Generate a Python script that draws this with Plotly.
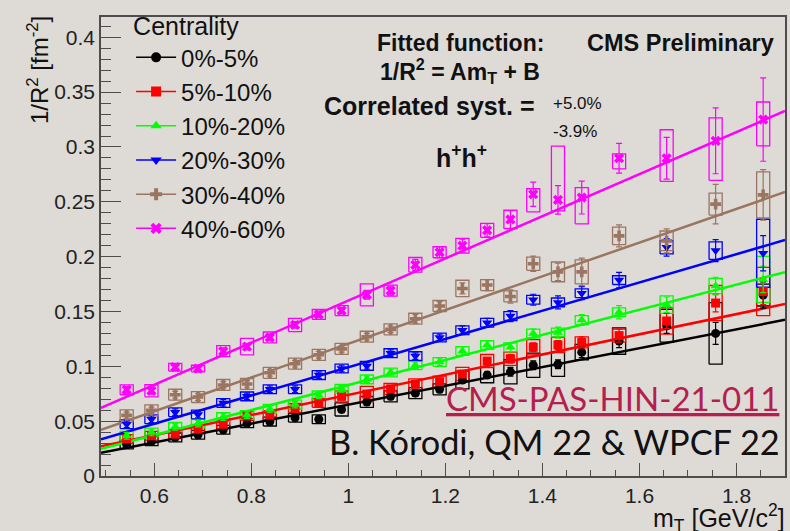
import plotly.graph_objects as go

# ---------------- data ----------------
mT = [0.543, 0.594, 0.643, 0.690, 0.742, 0.791, 0.838, 0.890, 0.939, 0.986, 1.038, 1.087,
      1.138, 1.188, 1.235, 1.286, 1.334, 1.381, 1.432, 1.481, 1.558, 1.656, 1.757, 1.855]

labels = ["0%-5%", "5%-10%", "10%-20%", "20%-30%", "30%-40%", "40%-60%"]
colors = ["#000000", "#ff0000", "#00ff00", "#0000ff", "#9a7562", "#ff00ff"]
symbols = ["circle", "square", "triangle-up", "triangle-down", "cross", "x"]

invR2_0_5 = [0.0287, 0.0317, 0.0352, 0.0376, 0.0421, 0.0481, 0.0496, 0.0532, 0.0517, 0.0607, 0.0675, 0.0726,
             0.0755, 0.0790, 0.0875, 0.0920, 0.0950, 0.1010, 0.1019, 0.1129, 0.1230, 0.1370, 0.1300, 0.1650]
invR2_5_10 = [0.0338, 0.0367, 0.0382, 0.0427, 0.0472, 0.0547, 0.0556, 0.0621, 0.0666, 0.0726, 0.0747, 0.0795,
              0.0836, 0.0860, 0.0930, 0.1048, 0.1069, 0.1174, 0.1195, 0.1219, 0.1280, 0.1413, 0.1577, 0.1682]
invR2_10_20 = [0.0367, 0.0397, 0.0448, 0.0478, 0.0538, 0.0556, 0.0612, 0.0651, 0.0735, 0.0795, 0.0881, 0.0944,
               0.1010, 0.1039, 0.1140, 0.1195, 0.1174, 0.1299, 0.1308, 0.1422, 0.1493, 0.1562, 0.1732, 0.1792]
invR2_20_30 = [0.0472, 0.0517, 0.0582, 0.0561, 0.0666, 0.0726, 0.0791, 0.0791, 0.0920, 0.0980, 0.1004, 0.1120,
               0.1093, 0.1263, 0.1329, 0.1398, 0.1458, 0.1607, 0.1583, 0.1667, 0.1786, 0.2085, 0.2055, 0.2031]
invR2_30_40 = [0.0553, 0.0598, 0.0741, 0.0720, 0.0830, 0.0839, 0.0941, 0.1024, 0.1105, 0.1159, 0.1270, 0.1337,
               0.1434, 0.1550, 0.1710, 0.1741, 0.1637, 0.1935, 0.1861, 0.1861, 0.2189, 0.2144, 0.2479, 0.2563]
invR2_40_60 = [0.0786, 0.0777, 0.0992, 0.0980, 0.1138, 0.1180, 0.1263, 0.1377, 0.1473, 0.1508, 0.1652, 0.1690,
               0.1925, 0.2040, 0.2100, 0.2240, 0.2339, 0.2569, 0.2518, 0.2539, 0.2897, 0.2897, 0.3056, 0.3250]

stat_0_5 = [0.003] * 14 + [0.003, 0.003, 0.004, 0.004, 0.004, 0.005, 0.006, 0.007, 0.010, 0.012]
stat_5_10 = [0.003] * 14 + [0.003, 0.003, 0.004, 0.004, 0.004, 0.005, 0.006, 0.007, 0.008, 0.012]
stat_10_20 = [0.003] * 14 + [0.004, 0.004, 0.004, 0.004, 0.005, 0.005, 0.006, 0.007, 0.008, 0.012]
stat_20_30 = [0.003] * 14 + [0.004, 0.004, 0.005, 0.005, 0.006, 0.006, 0.007, 0.008, 0.010, 0.016]
stat_30_40 = [0.003] * 12 + [0.004, 0.004, 0.005, 0.005, 0.006, 0.007, 0.008, 0.0125, 0.010, 0.011, 0.018, 0.023]
stat_40_60 = [0.003] * 10 + [0.004, 0.004, 0.005, 0.005, 0.006, 0.006, 0.008, 0.011, 0.013, 0.015, 0.0135,
                              0.019, 0.030, 0.038]

sys_up_0_5 = [0.004] * 9 + [0.006, 0.005, 0.005, 0.005, 0.005, 0.008, 0.007, 0.011, 0.011, 0.011, 0.007,
                            0.012, 0.015, 0.028, 0.010]
sys_up_5_10 = [0.004] * 9 + [0.005, 0.007, 0.005, 0.005, 0.005, 0.006, 0.006, 0.006, 0.007, 0.007, 0.005,
                             0.006, 0.012, 0.016, 0.022]
sys_up_10_20 = [0.004] * 21 + [0.008, 0.007, 0.021]
sys_up_20_30 = [0.004] * 21 + [0.006, 0.008, 0.031]
sys_up_30_40 = [0.005] * 14 + [0.0075, 0.005, 0.005, 0.006, 0.009, 0.011, 0.008, 0.009, 0.010, 0.021]
sys_up_40_60 = [0.0045, 0.0055, 0.0035, 0.003, 0.005, 0.0075, 0.005, 0.006, 0.0045, 0.0045, 0.010, 0.005,
                0.0067, 0.005, 0.0067, 0.0064, 0.0084, 0.005, 0.049, 0.009, 0.004, 0.026, 0.021, 0.016]
sys_dn_40_60 = [0.0045, 0.0055, 0.0035, 0.003, 0.005, 0.0075, 0.005, 0.006, 0.0045, 0.0045, 0.010, 0.005,
                0.0067, 0.005, 0.0067, 0.0064, 0.0084, 0.016, 0.010, 0.024, 0.0096, 0.021, 0.036, 0.024]

# fitted 1/R^2 = A*mT + B
fit_A = [0.0860, 0.0920, 0.1143, 0.1288, 0.1537, 0.1920]
fit_B = [-0.0210, -0.0180, -0.0313, -0.0296, -0.0331, -0.0320]

series_y = [invR2_0_5, invR2_5_10, invR2_10_20, invR2_20_30, invR2_30_40, invR2_40_60]
series_stat = [stat_0_5, stat_5_10, stat_10_20, stat_20_30, stat_30_40, stat_40_60]
series_sys_up = [sys_up_0_5, sys_up_5_10, sys_up_10_20, sys_up_20_30, sys_up_30_40, sys_up_40_60]
series_sys_dn = [sys_up_0_5, sys_up_5_10, sys_up_10_20, sys_up_20_30, sys_up_30_40, sys_dn_40_60]

x_range = [0.49, 1.9]
y_range = [0, 0.4185]
box_halfwidth = 0.0135

FONT = "Liberation Sans, Arial, Helvetica, sans-serif"

fig = go.Figure()

# systematic boxes
for i in range(6):
    bx, by = [], []
    for x, y, su, sd in zip(mT, series_y[i], series_sys_up[i], series_sys_dn[i]):
        bx += [x - box_halfwidth, x + box_halfwidth, x + box_halfwidth, x - box_halfwidth, x - box_halfwidth, None]
        by += [y - sd, y - sd, y + su, y + su, y - sd, None]
    fig.add_trace(go.Scatter(x=bx, y=by, mode="lines", line=dict(color=colors[i], width=1.3),
                             showlegend=False, hoverinfo="skip"))

# fit lines
for i in range(6):
    fig.add_trace(go.Scatter(x=x_range, y=[fit_A[i] * v + fit_B[i] for v in x_range], mode="lines",
                             line=dict(color=colors[i], width=2.5), showlegend=False, hoverinfo="skip"))

# data points with stat errors
for i in range(6):
    fig.add_trace(go.Scatter(
        x=mT, y=series_y[i], mode="markers",
        marker=dict(color=colors[i], symbol=symbols[i], size=9, line=dict(width=0)),
        error_y=dict(type="data", array=series_stat[i], color=colors[i], thickness=1.2, width=3),
        showlegend=False, name=labels[i]))

# legend entries
for i in range(6):
    fig.add_trace(go.Scatter(
        x=[None], y=[None], mode="lines+markers", name=labels[i],
        line=dict(color=colors[i], width=1.5),
        marker=dict(color=colors[i], symbol=symbols[i], size=10, line=dict(width=0))))

bg = "#dedbd6"
axcol = "#4d4d4d"

fig.update_layout(
    width=790, height=531, autosize=False,
    margin=dict(l=101, r=3, t=9, b=55),
    paper_bgcolor=bg, plot_bgcolor=bg,
    font=dict(family=FONT, color="#111"),
    showlegend=True,
    legend=dict(
        x=0.044, y=1.031, xanchor="left", yanchor="top",
        bgcolor="rgba(0,0,0,0)", font=dict(size=24, family=FONT, color="#111"),
        title=dict(text="Centrality", font=dict(size=25, family=FONT, color="#111")),
        itemwidth=40, tracegroupgap=0,
    ),
    xaxis=dict(
        range=x_range, tick0=0, dtick=0.2, ticks="inside", ticklen=13, tickwidth=1.2, tickcolor=axcol,
        showline=True, linecolor=axcol, linewidth=1.5, mirror=True, showgrid=False, zeroline=False,
        tickfont=dict(size=21, family=FONT, color="#222"),
        minor=dict(dtick=0.05, tick0=0, ticks="inside", ticklen=6, tickwidth=1.2, tickcolor=axcol, showgrid=False),
    ),
    yaxis=dict(
        range=y_range, tick0=0, dtick=0.05, ticks="inside", ticklen=20, tickwidth=1.2, tickcolor=axcol,
        showline=True, linecolor=axcol, linewidth=1.5, mirror=True, showgrid=False, zeroline=False,
        tickfont=dict(size=21, family=FONT, color="#222"),
        minor=dict(dtick=0.01, tick0=0, ticks="inside", ticklen=10, tickwidth=1.2, tickcolor=axcol, showgrid=False),
    ),
)

def ann(text, x, y, size, xanchor="center", yanchor="middle", color="#111", family=FONT, fontextra=None, **kw):
    f = dict(size=size, family=family, color=color)
    if fontextra:
        f.update(fontextra)
    fig.add_annotation(text=text, x=x, y=y, xref="paper", yref="paper", xanchor=xanchor, yanchor=yanchor,
                       showarrow=False, font=f, **kw)

ann("1/R<sup>2</sup> [fm<sup>-2</sup>]", 0, 1.0, 24, yanchor="top", textangle=-90, xshift=-63, yshift=3)
ann("m<sub>T</sub> [GeV/c<sup>2</sup>]", 1.0, 0, 25, xanchor="right", xshift=2, yshift=-42)
ann("<b>Fitted function:</b>", 0.5262, 0.9443, 23)
ann("<b>1/R<sup>2</sup> = Am<sub>T</sub> + B</b>", 0.5255, 0.8822, 23)
ann("<b>CMS Preliminary</b>", 0.8475, 0.9443, 23.5)
ann("<b>Correlated syst. =</b>", 0.3236, 0.8051, 25, xanchor="left")
ann("+5.0%", 0.6574, 0.8116, 17, xanchor="left")
ann("-3.9%", 0.6574, 0.7516, 17, xanchor="left")
ann("<b>h<sup>+</sup>h<sup>+</sup></b>", 0.527, 0.698, 25)
ann("CMS-PAS-HIN-21-011", 0.9942, 0.1690, 33, xanchor="right", color="#b41f4e",
    family="Lato, sans-serif", fontextra=dict(lineposition="under"))
ann("B. Kórodi, QM 22 &amp; WPCF 22", 0.9956, 0.0749, 34.3, xanchor="right", color="#111",
    family="Lato, sans-serif")

fig.write_html("out.html", config={"displayModeBar": False},
               post_script="document.body.style.margin='0px';")
